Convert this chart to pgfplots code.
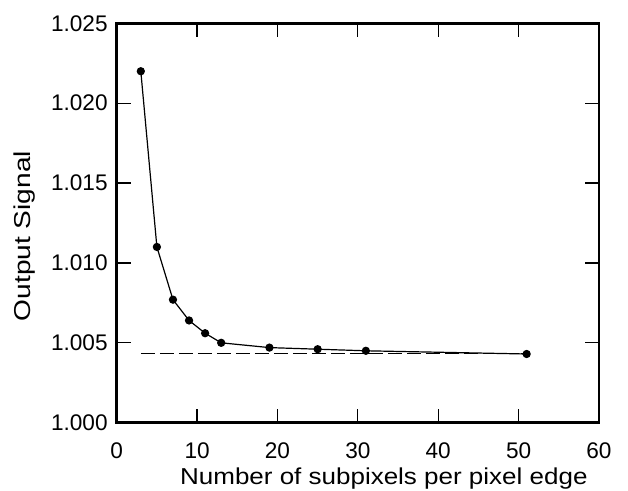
\documentclass[border=0pt]{standalone}
\usepackage{fontspec}
\setmainfont{Liberation Sans}
\newfontfamily\xlabfont{Liberation Sans}[FakeStretch=1.13]
\newfontfamily\ylabfont{Liberation Sans}[FakeStretch=1.22]
\usepackage{pgfplots}
\pgfplotsset{compat=1.18}
\begin{document}
\begin{tikzpicture}
\path[use as bounding box] (-58.35pt,-34.15pt) rectangle (255.65pt,211.35pt);
\begin{axis}[
  at={(0,0)}, anchor=south west,
  scale only axis,
  width=241.15pt, height=199.7pt,
  xmin=0, xmax=60, ymin=1.000, ymax=1.025,
  xtick={0,10,...,60},
  ytick={1.000,1.005,1.010,1.015,1.020,1.025},
  tick align=inside,
  major tick length=7pt,
  tick style={line width=0.6pt, black},
  axis line style={line width=1.35pt},
  /pgf/number format/assume math mode=true,
  yticklabel style={/pgf/number format/fixed, /pgf/number format/fixed zerofill, /pgf/number format/precision=3, xshift=-1pt},
  xticklabel style={yshift=-6.5pt},
  scaled y ticks=false,
  ticklabel style={font=\fontsize{11.3}{13}\selectfont},
  xlabel={\xlabfont\fontsize{11.5}{13}\selectfont Number of subpixels per pixel edge},
  ylabel={\ylabfont\fontsize{11.5}{13}\selectfont Output Signal},
  xlabel style={yshift=2.5pt, xshift=13pt},
  ylabel style={yshift=1pt, xshift=-6.5pt},
]
\addplot[black, line width=0.6pt, mark=*, mark size=1.75pt] coordinates {
 (3,1.0220) (5,1.0110) (7,1.0077) (9,1.0064) (11,1.0056) (13,1.0050)
 (19,1.0047) (25,1.0046) (31,1.0045) (51,1.0043)
};
\addplot[black, line width=0.6pt, dash pattern=on 7pt off 2.5pt] coordinates {
 (3,1.00434) (51,1.00434)
};
\end{axis}
\end{tikzpicture}
\end{document}
